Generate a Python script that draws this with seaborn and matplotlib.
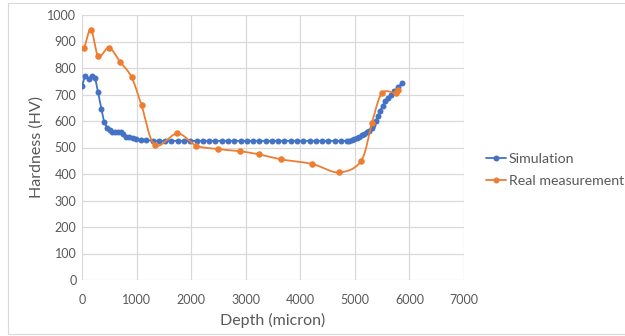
import numpy as np
import pandas as pd
import seaborn as sns
import matplotlib
matplotlib.use("Agg")
import matplotlib.pyplot as plt
from matplotlib.lines import Line2D
from matplotlib.patches import Rectangle

# Hardness profiles along the depth (micron -> HV)
sim_depth = [0, 60, 120, 180, 240, 295, 355, 405, 460, 510, 555, 610, 660, 710,
             760, 810, 870, 930, 990, 1085, 1180, 1295, 1410, 1525, 1640, 1755,
             1870, 1985, 2100, 2215, 2330, 2445, 2560, 2675, 2790, 2905, 3020,
             3135, 3250, 3365, 3480, 3595, 3710, 3825, 3940, 4055, 4170, 4285,
             4400, 4515, 4630, 4745, 4860, 4900, 4945, 4990, 5040, 5080, 5125,
             5175, 5215, 5265, 5305, 5340, 5380, 5420, 5460, 5510, 5560, 5610,
             5660, 5720, 5795, 5855]
sim_hv = [733, 771, 757, 768, 763, 708, 646, 596, 574, 565, 560, 560, 560, 558,
          550, 541, 538, 535, 533, 530, 528, 526, 525, 525, 525, 525,
          525, 525, 525, 525, 525, 525, 525, 525, 525, 525, 525,
          525, 525, 525, 525, 525, 525, 525, 525, 525, 525, 525,
          525, 525, 525, 525, 525, 526, 528, 532, 537, 541, 546,
          551, 557, 563, 572, 585, 600, 617, 636, 657, 675, 688,
          698, 713, 727, 742]

meas_depth = [42, 165, 298, 494, 695, 909, 1091, 1335, 1749, 2096, 2498, 2894,
              3241, 3650, 4217, 4704, 5113, 5314, 5495, 5750, 5790]
meas_hv = [877, 945, 844, 877, 824, 765, 659, 509, 553, 507, 494, 486,
           474, 455, 438, 406, 449, 594, 705, 705, 718]

x_ticks = [0, 1000, 2000, 3000, 4000, 5000, 6000, 7000]
y_ticks = [0, 100, 200, 300, 400, 500, 600, 700, 800, 900, 1000]

BLUE = "#4472C4"
ORANGE = "#ED7D31"
TEXT = "#595959"
GRID = "#D9D9D9"

sns.set_theme(style="white")
plt.rcParams['font.family'] = ['Lato', 'DejaVu Sans']

fig = plt.figure(figsize=(6.25, 3.36), dpi=100)
fig.patch.set_facecolor("white")
# thin chart frame
fig.patches.append(Rectangle((8 / 625, 2 / 336), 1.0, 331.5 / 336,
                             transform=fig.transFigure, fill=False,
                             edgecolor="#D9D9D9", lw=0.8, zorder=0))

ax = fig.add_axes([82 / 625, 56 / 336, 382 / 625, 265 / 336])


def smooth_curve(x, y, sx, sy, n=24):
    """Catmull-Rom curve through the points, computed in screen-like units."""
    P = np.column_stack([np.asarray(x, float) * sx, np.asarray(y, float) * sy])
    P = np.vstack([2 * P[0] - P[1], P, 2 * P[-1] - P[-2]])
    t = np.linspace(0, 1, n, endpoint=False)[:, None]
    parts = []
    for i in range(1, len(P) - 2):
        p0, p1, p2, p3 = P[i - 1], P[i], P[i + 1], P[i + 2]
        parts.append(0.5 * (2 * p1 + (p2 - p0) * t
                            + (2 * p0 - 5 * p1 + 4 * p2 - p3) * t ** 2
                            + (-p0 + 3 * p1 - 3 * p2 + p3) * t ** 3))
    parts.append(P[-2][None, :])
    C = np.vstack(parts)
    return C[:, 0] / sx, C[:, 1] / sy


sim_df = pd.DataFrame({"depth": sim_depth, "hv": sim_hv})
meas_df = pd.DataFrame({"depth": meas_depth, "hv": meas_hv})
cx, cy = smooth_curve(meas_depth, meas_hv, 382 / 7000, 265 / 1000)
curve_df = pd.DataFrame({"depth": cx, "hv": cy})

sns.lineplot(data=sim_df, x="depth", y="hv", sort=False, color=BLUE, lw=1.3,
             marker="o", markersize=4.3, markeredgewidth=0, ax=ax, zorder=3)
sns.lineplot(data=curve_df, x="depth", y="hv", sort=False, color=ORANGE,
             lw=1.3, ax=ax, zorder=4)
sns.scatterplot(data=meas_df, x="depth", y="hv", color=ORANGE, s=22,
                linewidth=0, ax=ax, zorder=5)

ax.set_xlim(0, 7000)
ax.set_ylim(0, 1000)
ax.set_xticks(x_ticks)
ax.set_yticks(y_ticks)
ax.grid(True, color=GRID, lw=0.9)
ax.set_axisbelow(True)
for s in ax.spines.values():
    s.set_visible(False)
ax.tick_params(axis="both", length=0, labelsize=9, colors=TEXT)
ax.tick_params(axis="x", pad=10)
ax.tick_params(axis="y", pad=4)
ax.set_xlabel("Depth (micron)", fontsize=11.5, color=TEXT, labelpad=5)
ax.set_ylabel("Hardness (HV)", fontsize=11.5, color=TEXT, labelpad=3)

handles = [Line2D([], [], color=BLUE, lw=1.3, marker="o", ms=4.3, mew=0),
           Line2D([], [], color=ORANGE, lw=1.3, marker="o", ms=4.3, mew=0)]
fig.legend(handles, ["Simulation", "Real measurement"], loc="center left",
           bbox_to_anchor=(486 / 625, 1 - 170 / 336), frameon=False,
           fontsize=10.2, labelcolor=TEXT, handlelength=1.4, handletextpad=0.2,
           labelspacing=0.72, borderaxespad=0, borderpad=0)

fig.savefig("out.png", dpi=100, facecolor="white")
